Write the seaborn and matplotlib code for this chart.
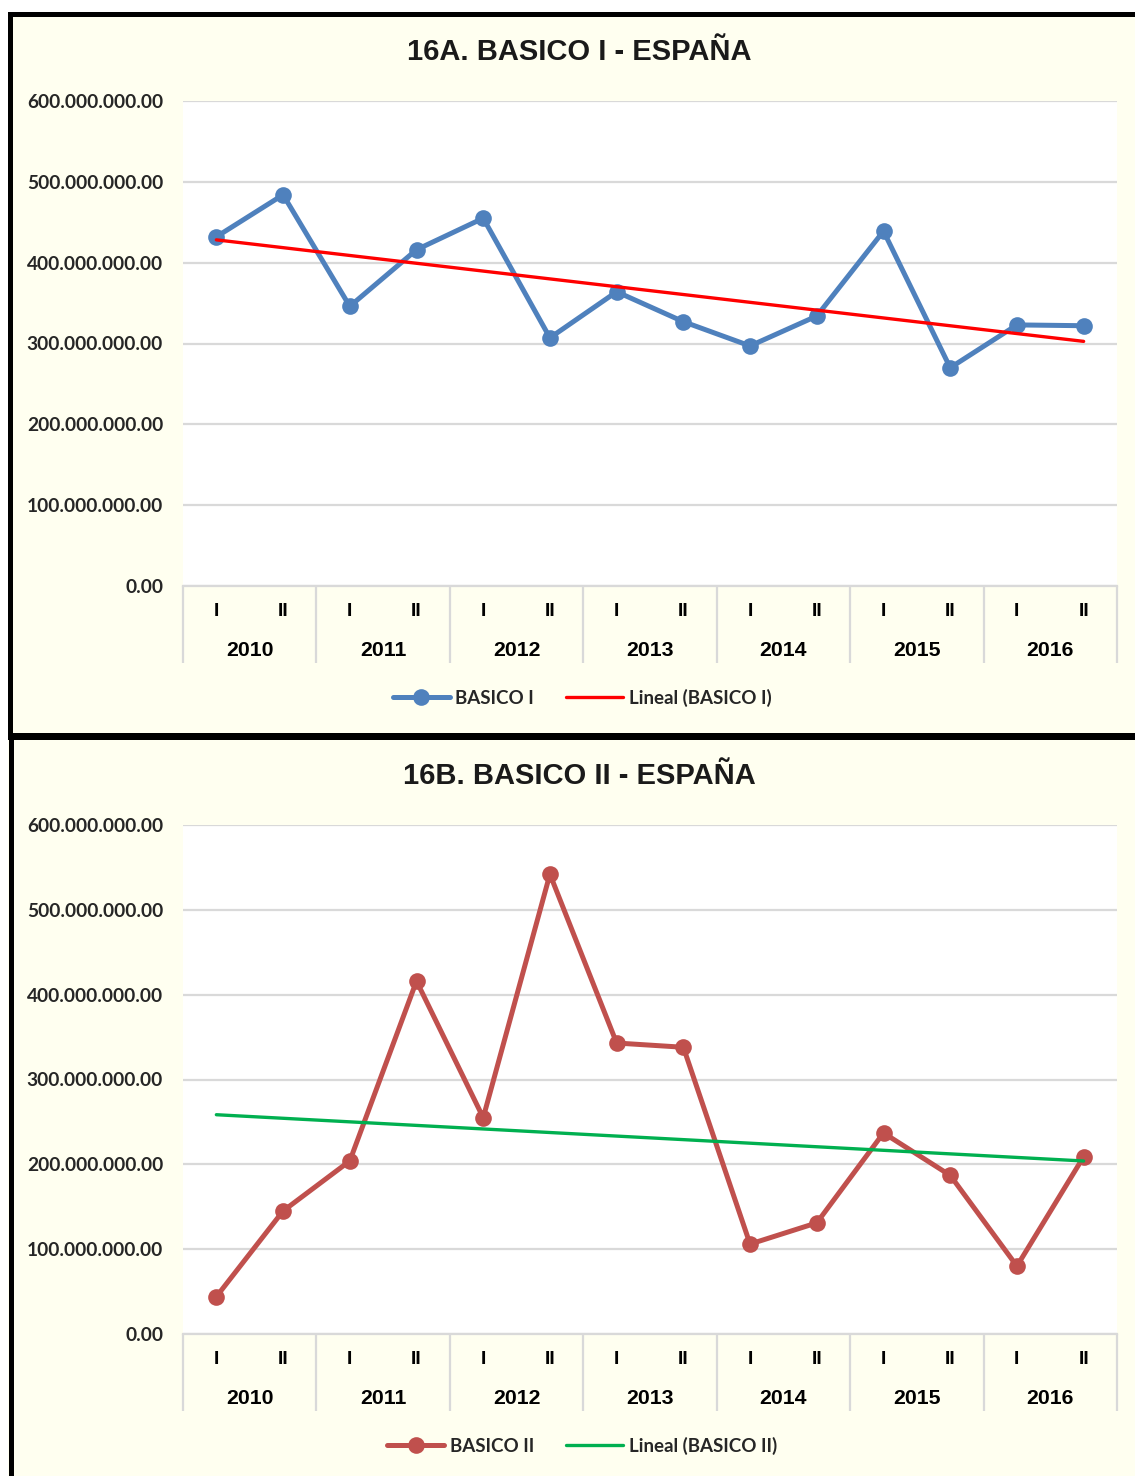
import numpy as np
import pandas as pd
import matplotlib
matplotlib.use("Agg")
import matplotlib.pyplot as plt
import seaborn as sns
from matplotlib.patches import Rectangle
from matplotlib.lines import Line2D
import matplotlib.transforms as mtrans

# ---------------- data ----------------
years = ["2010", "2011", "2012", "2013", "2014", "2015", "2016"]
semesters = ["I", "II"]
basico_i = [432e6, 484e6, 346e6, 416e6, 455e6, 307e6, 364e6,
            327e6, 297e6, 334e6, 439e6, 270e6, 323e6, 322e6]
basico_ii = [44e6, 145e6, 204e6, 416e6, 255e6, 542e6, 343e6,
             338e6, 106e6, 131e6, 237e6, 187e6, 80e6, 209e6]
yticks = [0, 100e6, 200e6, 300e6, 400e6, 500e6, 600e6]

W, H = 1135, 1476
CREAM = "#FFFFF0"
GRID = "#D9D9D9"

sns.set_theme(style="white")
plt.rcParams["font.family"] = ["Liberation Sans", "DejaVu Sans"]

fig = plt.figure(figsize=(W / 100, H / 100), dpi=100)
fig.patch.set_facecolor("white")


def fr(x0, y0, x1, y1):
    return [x0 / W, 1 - y1 / H, (x1 - x0) / W, (y1 - y0) / H]


def frect(x0, y0, x1, y1, color, z=0):
    b = fr(x0, y0, x1, y1)
    fig.patches.append(Rectangle((b[0], b[1]), b[2], b[3], transform=fig.transFigure,
                                 facecolor=color, edgecolor="none", zorder=z))


# background + frames
frect(8, 12, W, H, CREAM, z=-10)
frect(8, 12, W, 17, "black", z=-5)
frect(8, 12, 13, 738, "black", z=-5)
frect(8, 733, W, 740, "black", z=-5)
frect(9, 740, 14, H, "black", z=-5)


def fmt(v, pos=None):
    return f"{v:,.2f}".replace(",", ".")


def panel(box, values, title, title_y, color, trend_color, label, trend_label, legend_y):
    x0, y0, x1, y1 = box
    ax = fig.add_axes(fr(*box))
    ax.set_facecolor("white")
    idx = np.arange(len(values))
    df = pd.DataFrame({"x": idx, "y": values})
    sns.lineplot(data=df, x="x", y="y", ax=ax, color=color, linewidth=3.6,
                 marker="o", markersize=12, markeredgewidth=0, zorder=3)
    sns.regplot(data=df, x="x", y="y", ax=ax, scatter=False, ci=None,
                line_kws=dict(color=trend_color, linewidth=2.4, zorder=4))
    ax.set_xlim(-0.5, len(values) - 0.5)
    ax.set_ylim(0, 600e6)
    ax.set_yticks(yticks)
    ax.yaxis.set_major_formatter(plt.FuncFormatter(fmt))
    ax.tick_params(axis="y", length=0, pad=14.4, labelsize=13.8)
    for t in ax.get_yticklabels():
        t.set_fontweight("bold")
        t.set_fontfamily(["Lato", "DejaVu Sans"])
    ax.set_xticks([])
    ax.set_xlabel("")
    ax.set_ylabel("")
    ax.grid(axis="y", color=GRID, linewidth=1.6)
    ax.set_axisbelow(True)
    for s in ["top", "right", "left"]:
        ax.spines[s].set_visible(False)
    ax.spines["bottom"].set_color(GRID)
    ax.spines["bottom"].set_linewidth(1.6)

    hpx = y1 - y0
    trans = mtrans.blended_transform_factory(ax.transData, ax.transAxes)
    # separators
    seps = np.arange(-0.5, len(values), 2)
    ax.vlines(seps, -77 / hpx, 0, transform=trans, colors=GRID, linewidth=1.6, clip_on=False)
    for i in idx:
        ax.text(i, -25 / hpx, semesters[i % 2], transform=trans, ha="center", va="center",
                fontsize=14, fontweight="bold", color="black")
    for j, yr in enumerate(years):
        ax.text(2 * j + 0.5, -65 / hpx, yr, transform=trans, ha="center", va="center",
                fontsize=15.3, fontweight="bold", color="black")

    fig.text(579 / W, 1 - title_y / H, title, ha="center", va="center",
             fontsize=21, fontweight="bold", color="#1a1a1a")

    handles = [Line2D([], [], color=color, linewidth=3.6, marker="o", markersize=12,
                      markeredgewidth=0),
               Line2D([], [], color=trend_color, linewidth=2.4)]
    fig.legend(handles, [label, trend_label], loc="center",
               bbox_to_anchor=(582 / W, 1 - legend_y / H), ncol=2, frameon=False,
               handlelength=3.05, handletextpad=0.3, columnspacing=1.7,
               prop=dict(family=["Lato", "DejaVu Sans"], weight="bold", size=13.5))
    return ax


panel((183, 101, 1117, 586), basico_i, "16A. BASICO I - ESPAÑA", 52,
      "#4F81BD", "#FF0000", "BASICO I", "Lineal (BASICO I)", 698)
panel((183, 825, 1117, 1334), basico_ii, "16B. BASICO II - ESPAÑA", 776,
      "#C0504D", "#00B050", "BASICO II", "Lineal (BASICO II)", 1446)

fig.savefig("out.png", dpi=100, facecolor=fig.get_facecolor())
